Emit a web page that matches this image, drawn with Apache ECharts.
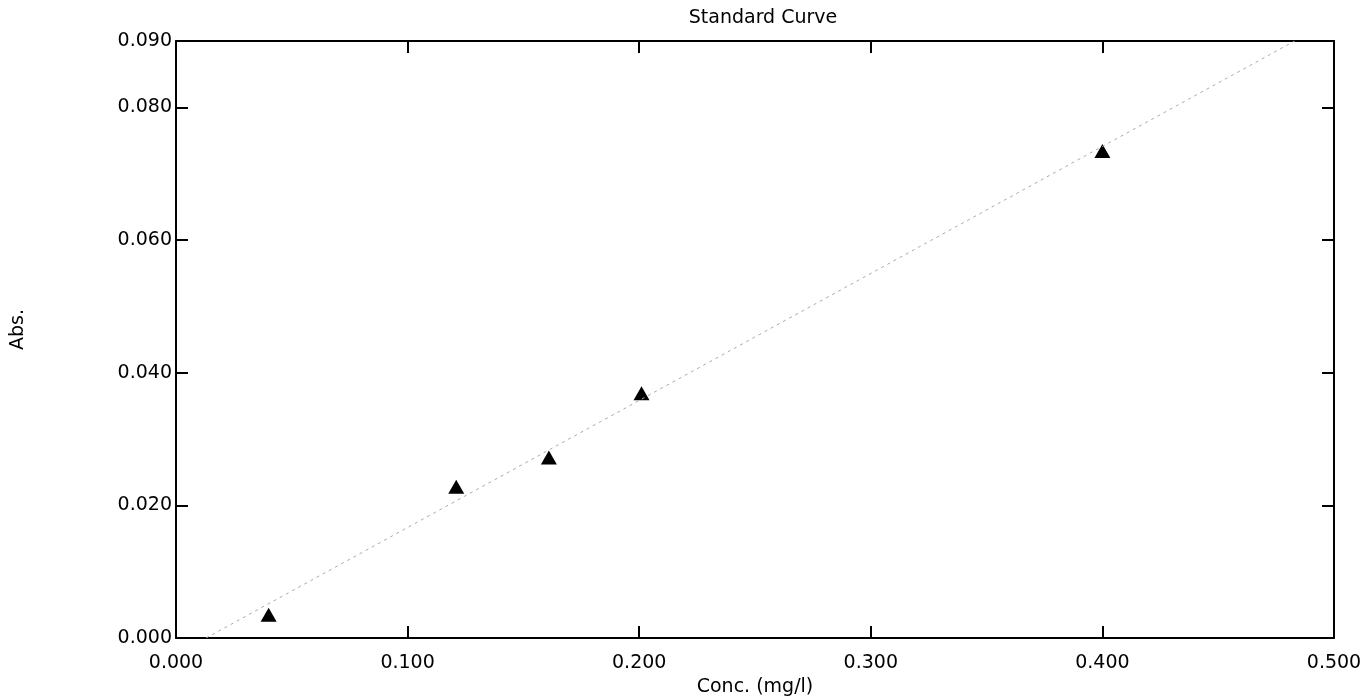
<!DOCTYPE html>
<html>
<head>
<meta charset="utf-8">
<script src="https://cdn.jsdelivr.net/npm/echarts@6/dist/echarts.min.js"></script>
<style>
html,body{margin:0;padding:0;background:#fff;}
#chart{width:1368px;height:699px;}
</style>
</head>
<body>
<div id="chart"></div>
<script>
// Data
var concentrations = [0.040, 0.121, 0.161, 0.201, 0.400];
var absorbances = [0.0035, 0.0228, 0.0272, 0.0369, 0.0734];
// regression (standard curve) line endpoints
var fitLineX = [0.013, 0.483];
var fitLineY = [0.000, 0.090];
var xTickValues = [0.000, 0.100, 0.200, 0.300, 0.400, 0.500];
var yTickValues = [0.000, 0.020, 0.040, 0.060, 0.080, 0.090];

var points = concentrations.map(function (c, i) { return [c, absorbances[i]]; });
var fitLine = fitLineX.map(function (x, i) { return [x, fitLineY[i]]; });

var FONT = 'DejaVu Sans';
var chart = echarts.init(document.getElementById('chart'));
var frameLine = { show: true, onZero: false, lineStyle: { color: '#000', width: 2 } };
var tick = { show: true, inside: true, length: 12, lineStyle: { color: '#000', width: 2 } };

chart.setOption({
  animation: false,
  backgroundColor: '#fff',
  title: {
    text: 'Standard Curve',
    left: 758, top: 4, textAlign: 'center',
    textStyle: { fontFamily: FONT, fontSize: 19, fontWeight: 'normal', color: '#000' }
  },
  grid: { left: 176, right: 34, top: 41, bottom: 61, containLabel: false, outerBoundsMode: 'none' },
  xAxis: [{
    type: 'value', min: 0, max: 0.5, interval: 0.1, position: 'bottom',
    name: 'Conc. (mg/l)', nameLocation: 'middle', nameGap: 37,
    nameTextStyle: { fontFamily: FONT, fontSize: 19, color: '#000' },
    axisLine: frameLine, axisTick: tick, splitLine: { show: false },
    axisLabel: { margin: 16, fontFamily: FONT, fontSize: 19, color: '#000',
      formatter: function (v) { return v.toFixed(3); } }
  }, {
    type: 'value', min: 0, max: 0.5, interval: 0.1, position: 'top',
    axisLine: frameLine, axisTick: tick, splitLine: { show: false },
    axisLabel: { show: false }
  }],
  yAxis: [{
    type: 'value', min: 0, max: 0.09, interval: 0.02, position: 'left',
    name: 'Abs.', nameLocation: 'middle', nameGap: 148, nameRotate: 90,
    nameTextStyle: { fontFamily: FONT, fontSize: 19, color: '#000', padding: [0, 0, 0, 20] },
    axisLine: frameLine, axisTick: tick, splitLine: { show: false },
    axisLabel: { margin: 4, fontFamily: FONT, fontSize: 19, color: '#000',
      formatter: function (v) { return v.toFixed(3); } }
  }, {
    type: 'value', min: 0, max: 0.09, interval: 0.02, position: 'right',
    axisLine: frameLine, axisTick: tick, splitLine: { show: false },
    axisLabel: { show: false }
  }],
  series: [{
    type: 'line', data: fitLine, symbol: 'none', silent: true,
    lineStyle: { color: '#aaaaaa', width: 1, type: [3, 4] }
  }, {
    type: 'scatter', data: points, symbol: 'triangle', symbolSize: [16, 14],
    itemStyle: { color: '#000', opacity: 1 }
  }]
});
</script>
</body>
</html>
